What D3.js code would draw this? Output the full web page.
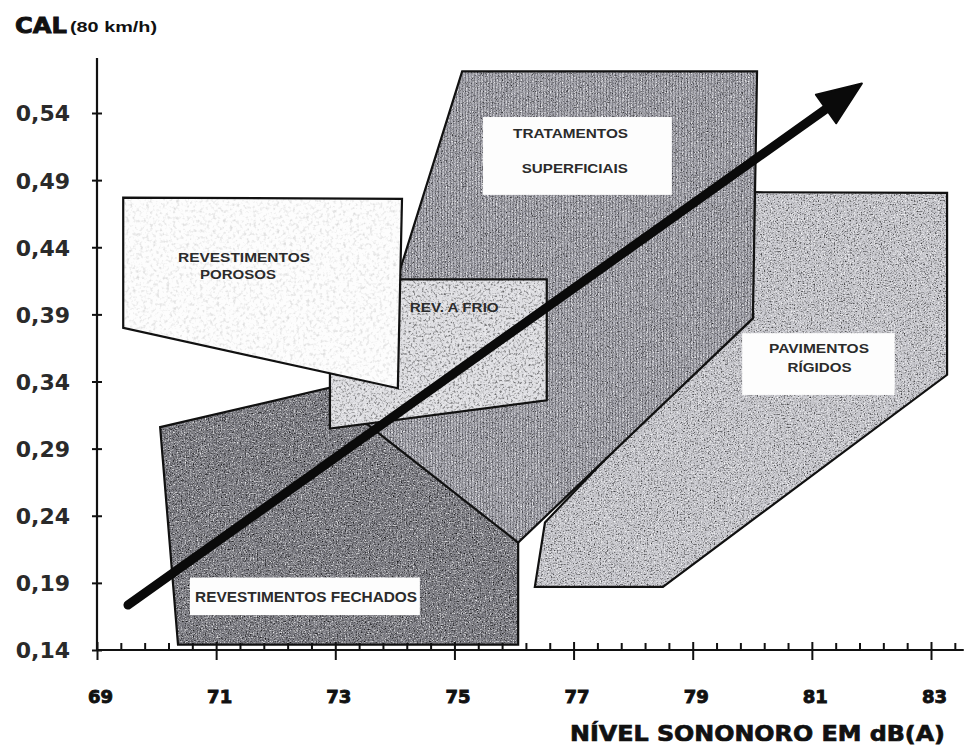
<!DOCTYPE html>
<html><head><meta charset="utf-8">
<script src="https://cdn.jsdelivr.net/npm/d3@7"></script>
<style>
html,body{margin:0;padding:0;background:#fff;}
svg{display:block;}
</style></head>
<body>
<svg id="chart" width="966" height="749"></svg>
<script>
// ---------- DATA ----------
const xMajorTicks = [69, 71, 73, 75, 77, 79, 81, 83];
const xMinorTicks = [69.4,69.8,70.2,70.6,71.4,71.8,72.2,72.6,73.4,73.8,74.2,74.6,75.4,75.8,76.2,76.6,77.4,77.8,78.2,78.6,79.4,79.8,80.2,80.6,81.4,81.8,82.2,82.6,83.4];
const yTicks = [0.14, 0.19, 0.24, 0.29, 0.34, 0.39, 0.44, 0.49, 0.54];

// region outlines: [dB(A), CAL]
const revFechados     = [[70.06,0.306],[73.16,0.338],[76.07,0.220],[76.07,0.144],[70.36,0.144]];
const tratSuperficiais= [[75.13,0.571],[80.08,0.571],[80.01,0.387],[76.07,0.220],[73.08,0.324],[73.98,0.408]];
const pavRigidos      = [[80.04,0.481],[83.27,0.4805],[83.27,0.345],[78.50,0.187],[76.35,0.187],[76.52,0.235],[79.79,0.387]];
const revAFrio        = [[72.91,0.416],[76.55,0.416],[76.55,0.326],[72.91,0.305]];
const revPorosos      = [[69.44,0.477],[74.12,0.476],[74.05,0.335],[69.44,0.380]];

// trend arrow [dB(A), CAL]
const trendStart = [69.52, 0.1735];
const trendEnd   = [81.84, 0.562];

// white label boxes [x0, x1, yTop, yBottom] in data units
const boxTrat = [75.48, 78.65, 0.537, 0.479];
const boxPav  = [79.83, 82.39, 0.376, 0.330];
const boxFech = [70.56, 74.42, 0.194, 0.166];

const xAxisMax = 83.55;
const yAxisMax = 0.581;

// ---------- SCALES ----------
const svg = d3.select("#chart");
const x = d3.scaleLinear().domain([69, 83]).range([97, 931]);
const y = d3.scaleLinear().domain([0.14, 0.54]).range([650, 113]);

// ---------- DEFS ----------
const defs = svg.append("defs");
function grain(id, dark, light, freq, seed) {
  const f = defs.append("filter").attr("id", id)
    .attr("x", "-2%").attr("y", "-2%").attr("width", "104%").attr("height", "104%")
    .attr("color-interpolation-filters", "sRGB");
  f.append("feTurbulence").attr("type", "fractalNoise").attr("baseFrequency", freq)
    .attr("numOctaves", 2).attr("seed", seed).attr("result", "n");
  f.append("feColorMatrix").attr("in", "n").attr("type", "matrix")
    .attr("values", `0 0 0 0 0  0 0 0 0 0  0 0 0 0 0  ${dark} 0 0 0 ${-dark*0.5}`).attr("result", "dk");
  f.append("feColorMatrix").attr("in", "n").attr("type", "matrix")
    .attr("values", `0 0 0 0 1  0 0 0 0 1  0 0 0 0 1  0 ${-light} 0 0 ${light*0.5}`).attr("result", "lt");
  f.append("feComposite").attr("in", "dk").attr("in2", "SourceAlpha").attr("operator", "in").attr("result", "dk2");
  f.append("feComposite").attr("in", "lt").attr("in2", "SourceAlpha").attr("operator", "in").attr("result", "lt2");
  const m = f.append("feMerge");
  m.append("feMergeNode").attr("in", "SourceGraphic");
  m.append("feMergeNode").attr("in", "dk2");
  m.append("feMergeNode").attr("in", "lt2");
}
grain("gFech", 2.4, 2.4, 0.75, 3);
grain("gTrat", 2.2, 2.6, 0.8, 7);
grain("gPav", 2.0, 2.6, 0.7, 11);
grain("gFrio", 1.6, 1.6, 0.45, 5);
grain("gPor", 0.35, 0.0, 0.3, 9);

const pat = defs.append("pattern").attr("id", "vstripes")
  .attr("patternUnits", "userSpaceOnUse").attr("width", 3).attr("height", 12);
pat.append("rect").attr("x", 0).attr("y", 0).attr("width", 1).attr("height", 12)
  .attr("fill", "#2c2c34").attr("opacity", 0.3);

// ---------- REGIONS ----------
const line = d3.line().x(d => x(d[0])).y(d => y(d[1])).curve(d3.curveLinearClosed);
const regions = [
  {pts: revFechados, fill: "#7c7c83", filter: "gFech", stripes: false},
  {pts: pavRigidos, fill: "#c6c6cc", filter: "gPav", stripes: false},
  {pts: tratSuperficiais, fill: "#a9a9b1", filter: "gTrat", stripes: true},
  {pts: revAFrio, fill: "#dedee2", filter: "gFrio", stripes: false},
  {pts: revPorosos, fill: "#fdfdfd", filter: "gPor", stripes: false}
];
const gReg = svg.append("g");
regions.forEach(r => {
  const g = gReg.append("g");
  g.append("path").attr("d", line(r.pts)).attr("fill", r.fill).attr("filter", `url(#${r.filter})`);
  if (r.stripes) g.append("path").attr("d", line(r.pts)).attr("fill", "url(#vstripes)");
  g.append("path").attr("d", line(r.pts)).attr("fill", "none")
    .attr("stroke", "#111").attr("stroke-width", 2.2).attr("stroke-linejoin", "miter");
});

// ---------- WHITE BOXES ----------
[boxTrat, boxPav, boxFech].forEach(b => {
  svg.append("rect")
    .attr("x", x(b[0])).attr("y", y(b[2]))
    .attr("width", x(b[1]) - x(b[0])).attr("height", y(b[3]) - y(b[2]))
    .attr("fill", "#fdfdfd");
});

// ---------- LABELS ----------
const labels = [
  {t: "TRATAMENTOS", x: 76.95, y: 0.5215, anchor: "middle", len: 115, size: 13},
  {t: "SUPERFICIAIS", x: 77.02, y: 0.4954, anchor: "middle", len: 106, size: 13},
  {t: "PAVIMENTOS", x: 81.12, y: 0.3613, anchor: "middle", len: 100, size: 13},
  {t: "RÍGIDOS", x: 81.13, y: 0.3472, anchor: "middle", len: 64, size: 13},
  {t: "REVESTIMENTOS FECHADOS", x: 72.51, y: 0.1758, anchor: "middle", len: 222, size: 15},
  {t: "REV. A FRIO", x: 74.25, y: 0.3919, anchor: "start", len: 89, size: 13},
  {t: "REVESTIMENTOS", x: 70.36, y: 0.4291, anchor: "start", len: 132, size: 13},
  {t: "POROSOS", x: 70.73, y: 0.4165, anchor: "start", len: 76, size: 13}
];
svg.append("g").selectAll("text").data(labels).join("text")
  .attr("x", d => x(d.x)).attr("y", d => y(d.y))
  .attr("text-anchor", d => d.anchor)
  .attr("textLength", d => d.len).attr("lengthAdjust", "spacingAndGlyphs")
  .attr("font-family", "'Liberation Sans', Arial, sans-serif")
  .attr("font-weight", "bold").attr("font-size", d => d.size)
  .attr("fill", "#2b2b2b")
  .text(d => d.t);

// ---------- TREND ARROW ----------
const p0 = [x(trendStart[0]), y(trendStart[1])];
const p1 = [x(trendEnd[0]), y(trendEnd[1])];
const dx = p1[0] - p0[0], dy = p1[1] - p0[1], L = Math.hypot(dx, dy);
const ux = dx / L, uy = dy / L, nx = -uy, ny = ux;
const headLen = 44, headHalf = 17.5;
const back = [p1[0] - ux * (headLen - 6), p1[1] - uy * (headLen - 6)];
svg.append("line")
  .attr("x1", p0[0]).attr("y1", p0[1]).attr("x2", back[0]).attr("y2", back[1])
  .attr("stroke", "#0a0a0a").attr("stroke-width", 9).attr("stroke-linecap", "round");
const hb = [p1[0] - ux * headLen, p1[1] - uy * headLen];
svg.append("path")
  .attr("d", `M${p1[0]},${p1[1]} L${hb[0] + nx * headHalf},${hb[1] + ny * headHalf} L${hb[0] - nx * headHalf},${hb[1] - ny * headHalf} Z`)
  .attr("fill", "#0a0a0a").attr("stroke", "#0a0a0a").attr("stroke-width", 2).attr("stroke-linejoin", "round");

// ---------- AXES ----------
const axG = svg.append("g");
axG.append("line").attr("x1", x(69)).attr("x2", x(69)).attr("y1", y(yAxisMax)).attr("y2", y(0.14) + 1)
  .attr("stroke", "#111").attr("stroke-width", 2.2);
axG.append("line").attr("x1", x(69) - 1).attr("x2", x(xAxisMax)).attr("y1", y(0.14)).attr("y2", y(0.14))
  .attr("stroke", "#111").attr("stroke-width", 2.2);

const yl = axG.append("g").attr("transform", `translate(${x(69)},0)`)
  .call(d3.axisLeft(y).tickValues(yTicks).tickSize(5).tickPadding(22)
    .tickFormat(d => d3.format(".2f")(d).replace(".", ",")));
const yr = axG.append("g").attr("transform", `translate(${x(69)},0)`)
  .call(d3.axisRight(y).tickValues(yTicks).tickSize(5).tickFormat(""));
[yl, yr].forEach(g => { g.select(".domain").remove(); g.selectAll("line").attr("stroke", "#111").attr("stroke-width", 2); });
yl.selectAll("text")
  .attr("font-family", "'DejaVu Sans', Verdana, sans-serif").attr("font-weight", "bold")
  .attr("font-size", 22).attr("fill", "#2a2a2a").attr("dy", "0.36em");

const xb = axG.append("g").attr("transform", `translate(0,${y(0.14)})`)
  .call(d3.axisBottom(x).tickValues(xMajorTicks).tickSize(10).tickPadding(30).tickFormat(d3.format("d")));
const xt = axG.append("g").attr("transform", `translate(0,${y(0.14)})`)
  .call(d3.axisTop(x).tickValues(xMajorTicks).tickSize(8).tickFormat(""));
const xm = axG.append("g").attr("transform", `translate(0,${y(0.14)})`)
  .call(d3.axisTop(x).tickValues(xMinorTicks).tickSize(7).tickFormat(""));
[xb, xt, xm].forEach(g => { g.select(".domain").remove(); g.selectAll("line").attr("stroke", "#111").attr("stroke-width", 2); });
xb.selectAll("text")
  .attr("font-family", "'DejaVu Sans', Verdana, sans-serif").attr("font-weight", "bold")
  .attr("font-size", 18).attr("fill", "#111").attr("stroke", "#111").attr("stroke-width", 0.9)
  .attr("dx", 3);

// ---------- TITLES ----------
svg.append("text").attr("x", 15).attr("y", 33)
  .attr("font-family", "'DejaVu Sans', Verdana, sans-serif").attr("font-weight", "bold")
  .attr("font-size", 22).attr("fill", "#111").attr("stroke", "#111").attr("stroke-width", 0.9)
  .attr("textLength", 52).attr("lengthAdjust", "spacingAndGlyphs").text("CAL");
svg.append("text").attr("x", 70).attr("y", 32)
  .attr("font-family", "'Liberation Sans', Arial, sans-serif").attr("font-weight", "bold")
  .attr("font-size", 14).attr("fill", "#111")
  .attr("textLength", 87).attr("lengthAdjust", "spacingAndGlyphs").text("(80 km/h)");
svg.append("text").attr("x", 570).attr("y", 741)
  .attr("font-family", "'DejaVu Sans', Verdana, sans-serif").attr("font-weight", "bold")
  .attr("font-size", 22).attr("fill", "#111").attr("stroke", "#111").attr("stroke-width", 0.7)
  .attr("textLength", 375).attr("lengthAdjust", "spacingAndGlyphs").text("NÍVEL SONONORO EM dB(A)");
</script>
</body></html>
